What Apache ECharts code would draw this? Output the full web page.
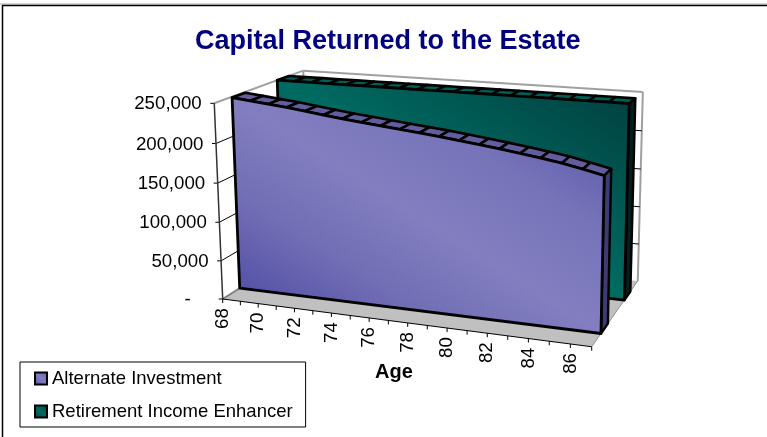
<!DOCTYPE html>
<html>
<head>
<meta charset="utf-8">
<style>html,body{margin:0;padding:0;background:#fff}#main{width:767px;height:437px}</style>
<script src="https://cdn.jsdelivr.net/npm/echarts@6/dist/echarts.min.js"></script>
</head>
<body>
<div id="main"></div>
<script>
const ages = [68, 69, 70, 71, 72, 73, 74, 75, 76, 77, 78, 79, 80, 81, 82, 83, 84, 85, 86, 87];
const alternateInvestment = [249000, 246500, 244000, 241500, 238500, 235500, 232500, 230000, 227500, 225000, 222500, 220000, 217000, 214000, 211000, 207500, 204000, 200000, 195000, 189500];
const retirementEnhancer = [250000, 250000, 250000, 250000, 250000, 250000, 250000, 250000, 250000, 250000, 250000, 250000, 250000, 250000, 250000, 250000, 250000, 250000, 250000, 250000];
const ageLabels = ['68', '70', '72', '74', '76', '78', '80', '82', '84', '86'];
const valueTicks = [0, 50000, 100000, 150000, 200000, 250000];
const valueLabels = ['-', '50,000', '100,000', '150,000', '200,000', '250,000'];
const seriesNames = ['Alternate Investment', 'Retirement Income Enhancer'];
const fontName = '"Liberation Sans", Arial, sans-serif';

// corners of the 3d box as the picture has them, homogeneous
const O = [222.7, 299, 1];
const X = [535.5, 313.8, 0.905];
const Y = [207.4, 100, 0.968];
const Z = [349.2, 276.8, 1.133];

function project(u, v, d) {
    const k = 1 - u - v - d;
    const p = [0, 1, 2].map(i => k * O[i] + u * X[i] + v * Y[i] + d * Z[i]);
    return [p[0] / p[2], p[1] / p[2]];
}
// age/value go through the grid's own axes, then get pushed into the box
function at(api, params, age, value, d) {
    const c = api.coord([age, value]);
    const s = params.coordSys;
    return project((c[0] - s.x) / s.width, (s.y + s.height - c[1]) / s.height, d);
}
function faceGradient(points, stops) {
    const xs = points.map(p => p[0]), ys = points.map(p => p[1]);
    const x0 = Math.min(...xs), x1 = Math.max(...xs), y0 = Math.min(...ys), y1 = Math.max(...ys);
    const w = x1 - x0, h = y1 - y0, len = w * w + h * h;
    const cx = (x0 + x1) / 2, cy = (y0 + y1) / 2;
    const dx = h * w * h / len, dy = -w * w * h / len;
    return new echarts.graphic.LinearGradient(cx - dx, cy - dy, cx + dx, cy + dy, stops, true);
}
function line(a, b, color, width) {
    return {
        type: 'line',
        shape: { x1: a[0], y1: a[1], x2: b[0], y2: b[1] },
        style: { stroke: color, lineWidth: width }
    };
}
function text(x, y, str, size, align, rotation) {
    return {
        type: 'text',
        x: x,
        y: y,
        rotation: rotation || 0,
        style: { text: str, fill: '#000', font: size + 'px ' + fontName, align: align, verticalAlign: 'middle' }
    };
}

function renderFrame(params, api) {
    if (params.dataIndex > 0) return null;
    const p = (age, value, d) => at(api, params, age, value, d);
    const a0 = ages[0], a1 = ages[ages.length - 1], top = 250000;
    const kids = [];
    kids.push({
        type: 'polygon',
        shape: { points: [p(a0, 0, 0), p(a1, 0, 0), p(a1, 0, 1), p(a0, 0, 1)] },
        style: { fill: '#c0c0c0' }
    });
    kids.push(line(p(a0, 0, 0), p(a0, 0, 1), '#808080', 2));
    kids.push(line(p(a1, 0, 0), p(a1, 0, 1), '#909090', 1));
    kids.push(line(p(a0, top, 0), p(a0, top, 1), '#a0a0a0', 2));
    kids.push(line(p(a0, top, 1), p(a1, top, 1), '#a0a0a0', 2));
    kids.push(line(p(a1, top, 1), p(a1, 0, 1), '#a0a0a0', 2));
    kids.push(line(p(a0, top, 1), p(a0, 0, 1), '#a0a0a0', 2));
    valueTicks.forEach((t, i) => {
        const q = p(a0, t, 0);
        if (i > 0 && i < valueTicks.length - 1) {
            kids.push(line(q, p(a0, t, 1), '#000', 1));
            kids.push(line(p(a0, t, 1), p(a1, t, 1), '#000', 1));
        }
        kids.push(line(q, [q[0] - 4, q[1]], '#000', 1));
        kids.push(text(t === 0 ? q[0] - 32 : q[0] - 12.5, q[1] + 1, valueLabels[i], 18.7, 'right'));
    });
    kids.push(line(p(a0, 0, 0), p(a0, top, 0), '#333', 1.5));
    kids.push(line(p(a0, 0, 0), p(a1, 0, 0), '#000', 1));
    ages.forEach(a => {
        const q = p(a, 0, 0);
        kids.push(line(q, [q[0], q[1] + 4], '#000', 1));
        if (ageLabels.indexOf(String(a)) >= 0) {
            kids.push(text(q[0], q[1] + 19.5, String(a), 18.7, 'center', Math.PI / 2));
        }
    });
    return { type: 'group', children: kids };
}

function makeArea(values, d0, d1, stops, stripColor, sideColor) {
    return function (params, api) {
        if (params.dataIndex > 0) return null;
        const p = (age, value, d) => at(api, params, age, value, d);
        const n = ages.length - 1;
        const kids = [];
        for (let i = 0; i < n; i++) {
            kids.push({
                type: 'polygon',
                shape: { points: [p(ages[i], values[i], d0), p(ages[i + 1], values[i + 1], d0), p(ages[i + 1], values[i + 1], d1), p(ages[i], values[i], d1)] },
                style: { fill: stripColor, stroke: '#000', lineWidth: 2.6, lineJoin: 'round' }
            });
        }
        kids.push({
            type: 'polygon',
            shape: { points: [p(ages[n], values[n], d0), p(ages[n], values[n], d1), p(ages[n], 0, d1), p(ages[n], 0, d0)] },
            style: { fill: sideColor, stroke: '#000', lineWidth: 2.4, lineJoin: 'round' }
        });
        const face = ages.map((a, i) => p(a, values[i], d0));
        face.push(p(ages[n], 0, d0), p(ages[0], 0, d0));
        kids.push({
            type: 'polygon',
            shape: { points: face },
            style: { fill: faceGradient(face, stops), stroke: '#000', lineWidth: 2.8, lineJoin: 'round' }
        });
        return { type: 'group', children: kids };
    };
}

const frontStops = [
    { offset: 0, color: '#4643a0' },
    { offset: 0.3, color: '#726eb5' },
    { offset: 0.5, color: '#827ec0' },
    { offset: 0.72, color: '#7773b9' },
    { offset: 1, color: '#5150a6' }
];
const backStops = [
    { offset: 0, color: '#003e3e' },
    { offset: 0.5, color: '#006b62' },
    { offset: 1, color: '#003e3e' }
];
function swatch(stops) {
    return new echarts.graphic.LinearGradient(0, 1, 1, 0, stops);
}

const chart = echarts.init(document.getElementById('main'), null, { renderer: 'canvas' });
chart.setOption({
    animation: false,
    backgroundColor: '#fff',
    title: {
        text: 'Capital Returned to the Estate',
        left: 195,
        top: 28,
        padding: 0,
        textStyle: { color: '#000080', fontFamily: fontName, fontWeight: 'bold', fontSize: 27 }
    },
    legend: {
        orient: 'vertical',
        left: 20,
        top: 362,
        padding: [7, 13, 6, 14],
        itemGap: 14,
        itemWidth: 12,
        itemHeight: 12,
        formatter: name => name,
        selectedMode: false,
        borderColor: '#000',
        borderWidth: 1,
        backgroundColor: '#fff',
        textStyle: { color: '#000', fontFamily: fontName, fontSize: 18.5 },
        data: [
            { name: seriesNames[0], icon: 'rect', itemStyle: { color: swatch(frontStops), borderColor: '#000', borderWidth: 2 } },
            { name: seriesNames[1], icon: 'rect', itemStyle: { color: swatch(backStops), borderColor: '#000', borderWidth: 2 } }
        ]
    },
    grid: { left: 222, top: 103, width: 370, height: 196 },
    xAxis: { type: 'value', min: 68, max: 87, show: false },
    yAxis: { type: 'value', min: 0, max: 250000, interval: 50000, show: false },
    graphic: [
        { type: 'line', shape: { x1: 0, y1: 4, x2: 767, y2: 4 }, style: { stroke: '#a8a8a8', lineWidth: 1 } },
        { type: 'line', shape: { x1: 2, y1: 5.5, x2: 767, y2: 5.5 }, style: { stroke: '#000', lineWidth: 1.5 } },
        { type: 'line', shape: { x1: 2.5, y1: 5, x2: 2.5, y2: 437 }, style: { stroke: '#000', lineWidth: 1.5 } },
        { type: 'text', x: 375, y: 372, style: { text: 'Age', fill: '#000', font: 'bold 20px ' + fontName, verticalAlign: 'middle' } }
    ],
    series: [
        {
            type: 'custom',
            name: 'frame',
            silent: true,
            renderItem: renderFrame,
            data: [[ages[0], 0]]
        },
        {
            type: 'custom',
            name: seriesNames[1],
            silent: true,
            renderItem: makeArea(retirementEnhancer, 0.68, 0.82, backStops, '#006058', '#001f1f'),
            data: ages.map((a, i) => [a, retirementEnhancer[i]])
        },
        {
            type: 'custom',
            name: seriesNames[0],
            silent: true,
            renderItem: makeArea(alternateInvestment, 0.18, 0.32, frontStops, '#625e9e', '#3d3a74'),
            data: ages.map((a, i) => [a, alternateInvestment[i]])
        }
    ]
});
</script>
</body>
</html>
